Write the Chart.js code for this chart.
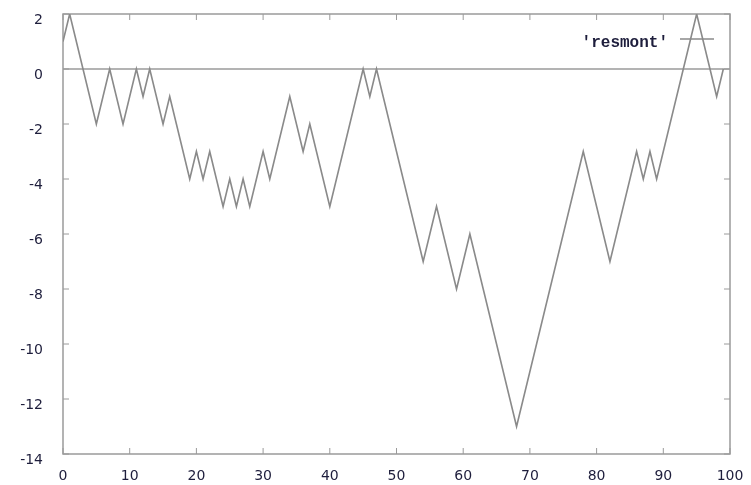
<!DOCTYPE html>
<html>
<head>
<meta charset="utf-8">
<script src="https://cdn.jsdelivr.net/npm/chart.js@4/dist/chart.umd.min.js"></script>
<style>
  html, body { margin: 0; padding: 0; background: #fff; }
  #wrap { width: 751px; height: 485px; }
</style>
</head>
<body>
<div id="wrap"><canvas id="c" width="751" height="485"></canvas></div>
<script>
// Random walk "resmont": one value per step
const steps = [];
for (let i = 0; i < 100; i++) steps.push(i);
const resmont = [
   1,  2,  1,  0, -1, -2, -1,  0, -1, -2,
  -1,  0, -1,  0, -1, -2, -1, -2, -3, -4,
  -3, -4, -3, -4, -5, -4, -5, -4, -5, -4,
  -3, -4, -3, -2, -1, -2, -3, -2, -3, -4,
  -5, -4, -3, -2, -1,  0, -1,  0, -1, -2,
  -3, -4, -5, -6, -7, -6, -5, -6, -7, -8,
  -7, -6, -7, -8, -9,-10,-11,-12,-13,-12,
 -11,-10, -9, -8, -7, -6, -5, -4, -3, -4,
  -5, -6, -7, -6, -5, -4, -3, -4, -3, -4,
  -3, -2, -1,  0,  1,  2,  1,  0, -1,  0
];
const seriesLabel = "'resmont'";
const xTicks = [0, 10, 20, 30, 40, 50, 60, 70, 80, 90, 100];
const yTicks = [-14, -12, -10, -8, -6, -4, -2, 0, 2];

const frameColor = '#9a9a9a';
const lineColor = '#8a8a8a';
const textColor = '#1e1e3c';

// gnuplot-like frame: border, inward mirrored ticks, zero axis and key
const framePlugin = {
  id: 'frame',
  beforeDatasetsDraw(chart) {
    const { ctx, chartArea: a, scales: { x, y } } = chart;
    ctx.save();
    ctx.strokeStyle = frameColor;
    ctx.lineWidth = 1.5;
    // zero axis
    const y0 = y.getPixelForValue(0);
    ctx.beginPath();
    ctx.moveTo(a.left, y0);
    ctx.lineTo(a.right, y0);
    ctx.stroke();
    // border
    ctx.strokeRect(a.left, a.top, a.right - a.left, a.bottom - a.top);
    // ticks
    const len = 6;
    ctx.lineWidth = 1;
    ctx.beginPath();
    xTicks.forEach(v => {
      const px = x.getPixelForValue(v);
      ctx.moveTo(px, a.bottom); ctx.lineTo(px, a.bottom - len);
      ctx.moveTo(px, a.top); ctx.lineTo(px, a.top + len);
    });
    yTicks.forEach(v => {
      const py = y.getPixelForValue(v);
      ctx.moveTo(a.left, py); ctx.lineTo(a.left + len, py);
      ctx.moveTo(a.right, py); ctx.lineTo(a.right - len, py);
    });
    ctx.stroke();
    ctx.restore();
  },
  afterDatasetsDraw(chart) {
    const { ctx, chartArea: a } = chart;
    const ds = chart.data.datasets[0];
    ctx.save();
    // key: label then line sample, top right
    const keyY = a.top + 25;
    const sampleRight = a.right - 16;
    const sampleLeft = sampleRight - 34;
    ctx.font = 'bold 16px "Liberation Mono", monospace';
    ctx.fillStyle = textColor;
    ctx.textAlign = 'right';
    ctx.textBaseline = 'middle';
    ctx.fillText(ds.label, sampleLeft - 12, keyY + 4);
    ctx.strokeStyle = ds.borderColor;
    ctx.lineWidth = ds.borderWidth;
    ctx.beginPath();
    ctx.moveTo(sampleLeft, keyY);
    ctx.lineTo(sampleRight, keyY);
    ctx.stroke();
    ctx.restore();
  }
};

const points = steps.map((s, i) => ({ x: s, y: resmont[i] }));

new Chart(document.getElementById('c'), {
  type: 'line',
  data: {
    datasets: [{
      label: seriesLabel,
      data: points,
      borderColor: lineColor,
      borderWidth: 1.6,
      pointRadius: 0,
      tension: 0,
      fill: false
    }]
  },
  options: {
    responsive: false,
    animation: false,
    devicePixelRatio: 1,
    layout: { padding: { top: 14, right: 21, left: 0, bottom: 0 } },
    plugins: {
      legend: { display: false },
      tooltip: { enabled: false }
    },
    scales: {
      x: {
        type: 'linear',
        min: 0, max: 100,
        afterFit(scale) {
          scale.height = 31;
          scale.paddingLeft = 0; scale.paddingRight = 0;
        },
        afterBuildTicks(scale) { scale.ticks = xTicks.map(v => ({ value: v })); },
        grid: { display: false },
        border: { display: false },
        ticks: {
          padding: 6,
          color: textColor,
          font: { family: '"DejaVu Sans", sans-serif', size: 14 },
          maxRotation: 0
        }
      },
      y: {
        type: 'linear',
        min: -14, max: 2,
        afterFit(scale) {
          scale.width = 63;
          scale.paddingTop = 0; scale.paddingBottom = 0;
        },
        afterBuildTicks(scale) { scale.ticks = yTicks.map(v => ({ value: v })); },
        grid: { display: false },
        border: { display: false },
        ticks: {
          padding: 12,
          labelOffset: 6,
          color: textColor,
          font: { family: '"DejaVu Sans", sans-serif', size: 14 }
        }
      }
    }
  },
  plugins: [framePlugin]
});
</script>
</body>
</html>
